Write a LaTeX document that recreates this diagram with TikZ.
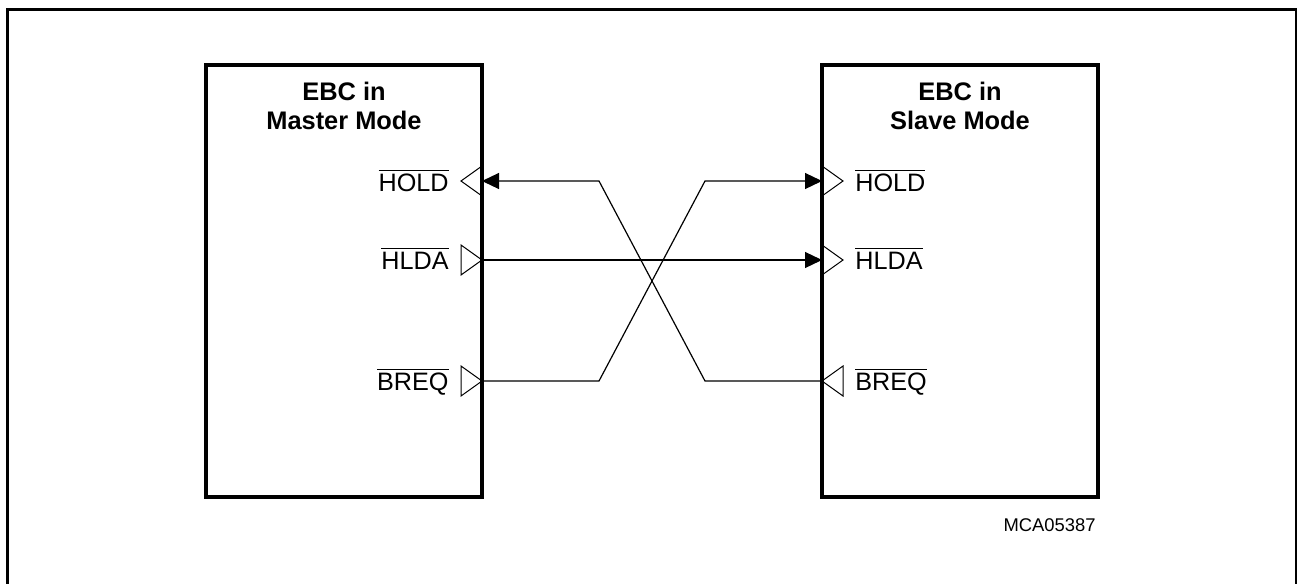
\documentclass[tikz,border=0pt]{standalone}
\usepackage{fontspec}
\setmainfont{Liberation Sans}
\usetikzlibrary{arrows.meta}
\newcommand{\negsig}[1]{$\overline{\mbox{#1}}$}

\begin{document}
\begin{tikzpicture}[x=0.5pt,y=-0.5pt,
  ebcbox/.style={draw,line width=2pt,outer sep=0pt,inner sep=0pt,minimum width=138pt,minimum height=216pt},
  boxtitle/.style={font=\fontsize{12.7}{14.3}\selectfont\bfseries,align=center,inner sep=0pt,anchor=north},
  pinlabel/.style={font=\fontsize{12.6}{14}\selectfont,inner sep=0pt},
  pin/.style={draw,line width=0.5pt,line join=miter},
  wire/.style={line width=0.6pt,-{Triangle[length=8.5pt,width=8pt]}}]
\useasboundingbox (0,0) rectangle (1297,584);
\draw[line width=1.5pt] (7,584) -- (7,9) -- (1296,9) -- (1296,584);

% the two bus controllers
\node[ebcbox] (master) at (344,281) {};
\node[ebcbox] (slave) at (960,281) {};
\node[boxtitle] (mtitle) at (344,82) {EBC in\\Master Mode};
\node[boxtitle] (stitle) at (960,82) {EBC in\\Slave Mode};

% pins
\coordinate (mhold) at (482,181);
\coordinate (mhlda) at (482,260);
\coordinate (mbreq) at (482,381);
\coordinate (shold) at (822,181);
\coordinate (shlda) at (822,260);
\coordinate (sbreq) at (822,381);

\draw[pin] (mhold) ++(0,-15) -- ++(-21,15) -- ++(21,15) -- cycle;
\draw[pin] (mhlda) -- ++(-21,-15) -- ++(0,30) -- cycle;
\draw[pin] (mbreq) -- ++(-21,-15) -- ++(0,30) -- cycle;
\draw[pin] (shold) ++(0,-15) -- ++(21,15) -- ++(-21,15) -- cycle;
\draw[pin] (shlda) ++(0,-15) -- ++(21,15) -- ++(-21,15) -- cycle;
\draw[pin] (sbreq) -- ++(21,-15) -- ++(0,30) -- cycle;

\node[pinlabel,anchor=base east] (lmhold) at (449,191) {\negsig{HOLD}};
\node[pinlabel,anchor=base east] (lmhlda) at (449,269) {\negsig{HLDA}};
\node[pinlabel,anchor=base east] (lmbreq) at (449,390) {\negsig{BREQ}};
\node[pinlabel,anchor=base west] (lshold) at (855,191) {\negsig{HOLD}};
\node[pinlabel,anchor=base west] (lshlda) at (855,269) {\negsig{HLDA}};
\node[pinlabel,anchor=base west] (lsbreq) at (855,390) {\negsig{BREQ}};

% connections
\draw[wire] (sbreq) -- ++(-117,0) -- ++(-106,-200) -- (mhold);
\draw[wire] (mhlda) -- (shlda);
\draw[wire] (mbreq) -- ++(117,0) -- ++(106,-200) -- (shold);

\node[font=\fontsize{9.2}{11}\selectfont,inner sep=0pt,anchor=base east] (code) at (1096,531) {MCA05387};
\end{tikzpicture}
\end{document}
